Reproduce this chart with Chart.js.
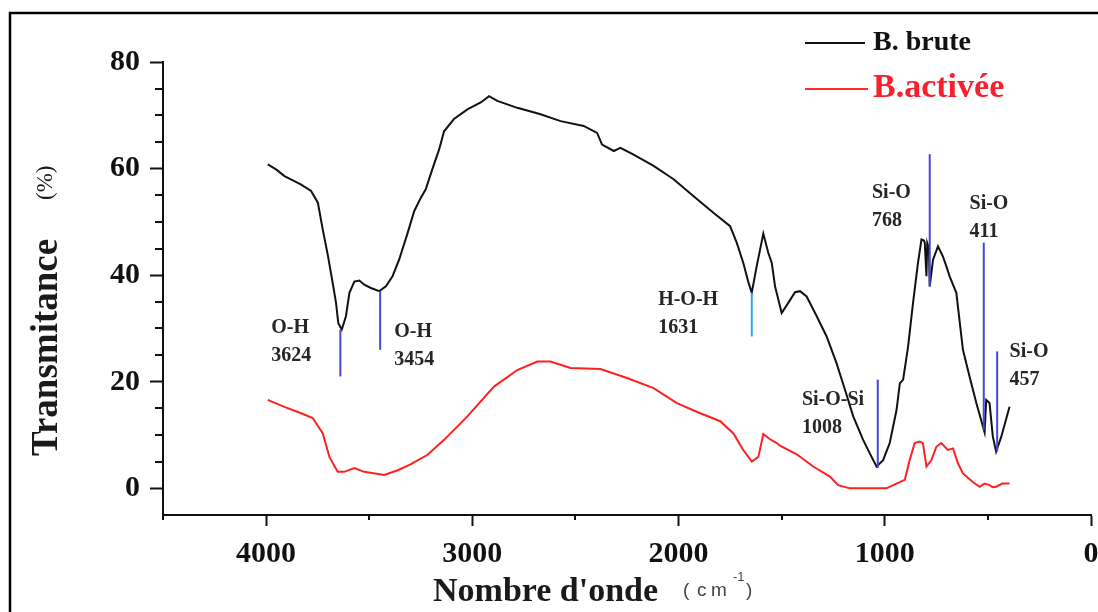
<!DOCTYPE html>
<html lang="fr">
<head>
    <meta charset="UTF-8">
    <title>Spectre IR - bentonite</title>
    <script src="https://cdn.jsdelivr.net/npm/chart.js"></script>
    <style>
        body { margin: 0; background: #fff; }
    </style>
</head>
<body>
    <canvas id="irChart" width="1098" height="612"></canvas>

    <script>
        // nombre d'onde (cm-1) et transmittance (%)
        const bruteX = [3992, 3950, 3911, 3870, 3830, 3782, 3749, 3725, 3701, 3677, 3661, 3650, 3633, 3613, 3596, 3572, 3548, 3524, 3492, 3451,
            3419, 3387, 3355, 3314, 3282, 3250, 3226, 3193, 3161, 3137, 3089, 3024, 2959, 2919, 2879, 2782, 2669, 2572, 2460, 2395,
            2371, 2314, 2282, 2218, 2121, 2024, 1927, 1831, 1750, 1718, 1686, 1660, 1645, 1621, 1589, 1565, 1548, 1532, 1500, 1468,
            1435, 1411, 1379, 1330, 1282, 1234, 1193, 1153, 1105, 1064, 1040, 1008, 976, 943, 927, 911, 887, 863, 839, 822,
            810, 806, 798, 794, 786, 782, 766, 742, 718, 700, 686, 653, 621, 589, 556, 524, 516, 508, 492, 476,
            460, 435, 395];
        const bruteY = [60.8, 59.8, 58.6, 57.8, 57.0, 55.8, 53.6, 48.5, 43.8, 38.5, 34.8, 31.0, 29.8, 32.3, 36.7, 38.8, 39.0, 38.2, 37.6, 37.0,
            37.9, 39.8, 42.9, 47.9, 52.0, 54.5, 56.1, 60.0, 63.6, 67.0, 69.3, 71.1, 72.4, 73.6, 72.7, 71.4, 70.2, 68.9, 68.0, 66.7,
            64.5, 63.3, 63.9, 62.6, 60.5, 58.0, 54.8, 51.7, 49.2, 46.1, 42.3, 38.5, 36.7, 41.7, 47.8, 44.2, 42.3, 37.9, 32.9, 34.8,
            36.8, 37.0, 36.0, 32.3, 28.5, 23.5, 18.5, 13.5, 9.1, 5.9, 4.1, 5.3, 8.5, 14.7, 19.7, 20.4, 26.6, 34.8, 42.3, 46.7,
            46.5, 46.1, 39.8, 46.0, 45.0, 37.9, 42.9, 45.4, 43.5, 41.5, 39.8, 36.7, 26.0, 21.0, 16.0, 11.6, 10.5, 16.6, 16.0, 9.7,
            6.9, 9.7, 15.3];

        const activeeX = [3992, 3911, 3830, 3774, 3725, 3693, 3653, 3621, 3572, 3524, 3427, 3362, 3300, 3217, 3137, 3024, 2895, 2782, 2685, 2621,
            2524, 2379, 2250, 2121, 2008, 1895, 1798, 1734, 1686, 1645, 1613, 1589, 1560, 1524, 1508, 1427, 1347, 1266, 1226, 1169,
            992, 943, 903, 879, 855, 831, 815, 798, 774, 750, 726, 694, 669, 645, 621, 573, 540, 516, 492, 476,
            460, 430, 395];
        const activeeY = [16.6, 15.3, 14.1, 13.2, 10.3, 5.9, 3.1, 3.1, 3.8, 3.1, 2.5, 3.4, 4.5, 6.3, 9.1, 13.5, 19.1, 22.2, 23.8, 23.8,
            22.6, 22.4, 20.7, 18.8, 16.0, 14.1, 12.6, 10.3, 7.2, 5.0, 5.9, 10.2, 9.3, 8.5, 8.0, 6.4, 4.1, 2.2, 0.6, 0.0,
            0.0, 0.9, 1.6, 5.3, 8.5, 8.8, 8.5, 4.1, 5.3, 7.8, 8.5, 7.2, 7.5, 4.7, 2.8, 1.2, 0.3, 0.9, 0.6, 0.2,
            0.3, 0.9, 0.9];

        const seriesNames = ['B. brute', 'B.activée'];

        const xTicks = [4000, 3000, 2000, 1000, 0];
        const xMinorTicks = [4500, 3500, 2500, 1500, 500];
        const yTicks = [0, 20, 40, 60, 80];
        const yMinorTicks = [5, 10, 15, 25, 30, 35, 45, 50, 55, 65, 70, 75];

        // bandes annotées : trait vertical + étiquette (en unités du graphe)
        const bandNames = ['O-H', 'O-H', 'H-O-H', 'Si-O-Si', 'Si-O', 'Si-O', 'Si-O'];
        const bandNumbers = ['3624', '3454', '1631', '1008', '768', '411', '457'];
        const bandLineX = [3640, 3447, 1645, 1034, 782, 520, 455];
        const bandLineTop = [29.8, 37.0, 36.7, 20.4, 62.7, 46.1, 25.7];
        const bandLineBottom = [21.0, 26.0, 28.5, 3.8, 37.9, 11.0, 6.9];
        const bandLabelX = [3975, 3379, 2099, 1402, 1062, 589, 395];
        const bandLabelY = [30.1, 29.4, 35.4, 16.6, 55.5, 53.3, 25.7];

        const serif = '"Liberation Serif", "Times New Roman", serif';
        const sans = '"Liberation Sans", Arial, sans-serif';

        function toPoints(xs, ys) {
            return xs.map((x, i) => ({ x: x, y: ys[i] }));
        }

        const decor = {
            id: 'decor',
            afterDraw(chart) {
                const ctx = chart.ctx;
                const xs = chart.scales.x;
                const ys = chart.scales.y;
                const area = chart.chartArea;
                ctx.save();

                // cadre
                ctx.strokeStyle = '#000';
                ctx.lineWidth = 2.5;
                ctx.beginPath();
                ctx.moveTo(10, 612);
                ctx.lineTo(10, 13);
                ctx.lineTo(1098, 13);
                ctx.stroke();

                // petites graduations
                ctx.lineWidth = 2;
                ctx.strokeStyle = '#111';
                xMinorTicks.forEach(v => {
                    const px = Math.round(xs.getPixelForValue(v));
                    ctx.beginPath();
                    ctx.moveTo(px, area.bottom);
                    ctx.lineTo(px, area.bottom + 5);
                    ctx.stroke();
                });
                yMinorTicks.forEach(v => {
                    const py = Math.round(ys.getPixelForValue(v));
                    ctx.beginPath();
                    ctx.moveTo(area.left, py);
                    ctx.lineTo(area.left - 8, py);
                    ctx.stroke();
                });

                // bandes
                ctx.font = 'bold 20px ' + serif;
                ctx.textAlign = 'left';
                ctx.textBaseline = 'middle';
                bandNames.forEach((name, i) => {
                    const px = xs.getPixelForValue(bandLineX[i]);
                    ctx.strokeStyle = name === 'H-O-H' ? '#2fa8e6' : '#4747d4';
                    ctx.lineWidth = 2;
                    ctx.beginPath();
                    ctx.moveTo(px, ys.getPixelForValue(bandLineTop[i]));
                    ctx.lineTo(px, ys.getPixelForValue(bandLineBottom[i]));
                    ctx.stroke();

                    const lx = xs.getPixelForValue(bandLabelX[i]);
                    const ly = ys.getPixelForValue(bandLabelY[i]);
                    ctx.fillStyle = '#262626';
                    ctx.fillText(name, lx, ly);
                    ctx.fillText(bandNumbers[i], lx, ly + 28);
                });

                // légende
                ctx.lineWidth = 2;
                ctx.strokeStyle = '#111';
                ctx.beginPath();
                ctx.moveTo(805, 43);
                ctx.lineTo(865, 43);
                ctx.stroke();
                ctx.strokeStyle = '#ff2a2a';
                ctx.beginPath();
                ctx.moveTo(805, 89);
                ctx.lineTo(868, 89);
                ctx.stroke();
                ctx.textBaseline = 'alphabetic';
                ctx.fillStyle = '#111';
                ctx.font = 'bold 28px ' + serif;
                ctx.fillText(seriesNames[0], 873, 50);
                ctx.fillStyle = '#f5222d';
                ctx.font = 'bold 34px ' + serif;
                ctx.fillText(seriesNames[1], 873, 97);

                // titres des axes
                ctx.fillStyle = '#1a1a1a';
                ctx.font = 'bold 37px ' + serif;
                ctx.save();
                ctx.translate(57, 456);
                ctx.rotate(-Math.PI / 2);
                ctx.fillText('Transmitance', 0, 0);
                ctx.restore();
                ctx.font = '23px ' + serif;
                ctx.save();
                ctx.translate(52, 200);
                ctx.rotate(-Math.PI / 2);
                ctx.fillText('(%)', 0, 0);
                ctx.restore();

                ctx.font = 'bold 34px ' + serif;
                ctx.fillText("Nombre d'onde", 433, 601);
                ctx.fillStyle = '#444';
                ctx.font = '19px ' + sans;
                ctx.fillText('(', 683, 596);
                ctx.fillText('c', 697, 596);
                ctx.fillText('m', 711, 596);
                ctx.fillText(')', 746, 596);
                ctx.font = '13px ' + sans;
                ctx.fillText('-1', 733, 581);

                ctx.restore();
            }
        };

        const ctx = document.getElementById('irChart').getContext('2d');
        new Chart(ctx, {
            type: 'line',
            data: {
                datasets: [{
                    label: seriesNames[0],
                    data: toPoints(bruteX, bruteY),
                    borderColor: '#111',
                    borderWidth: 2,
                    pointRadius: 0,
                    tension: 0
                }, {
                    label: seriesNames[1],
                    data: toPoints(activeeX, activeeY),
                    borderColor: '#ff2020',
                    borderWidth: 2,
                    pointRadius: 0,
                    tension: 0
                }]
            },
            options: {
                responsive: false,
                animation: false,
                devicePixelRatio: 1,
                layout: { padding: { top: 62, right: 7, bottom: 0, left: 0 } },
                plugins: {
                    legend: { display: false },
                    tooltip: { enabled: false }
                },
                scales: {
                    x: {
                        type: 'linear',
                        reverse: true,
                        min: 0,
                        max: 4500,
                        afterBuildTicks: s => { s.ticks = xTicks.map(v => ({ value: v })); },
                        afterFit: s => { s.height = 97; s.paddingLeft = 0; s.paddingRight = 0; },
                        border: { color: '#111', width: 2 },
                        grid: { drawOnChartArea: false, tickLength: 11, tickColor: '#111', tickWidth: 2 },
                        ticks: {
                            color: '#111',
                            padding: 10,
                            maxRotation: 0,
                            font: { family: serif, size: 30, weight: 'bold' },
                            callback: v => String(v)
                        }
                    },
                    y: {
                        min: -5,
                        max: 80,
                        afterBuildTicks: s => { s.ticks = yTicks.map(v => ({ value: v })); },
                        afterFit: s => { s.width = 163; s.paddingTop = 0; s.paddingBottom = 0; },
                        border: { color: '#111', width: 2 },
                        grid: { drawOnChartArea: false, tickLength: 13, tickColor: '#111', tickWidth: 2 },
                        ticks: {
                            color: '#111',
                            padding: 10,
                            font: { family: serif, size: 30, weight: 'bold' },
                            callback: v => String(v)
                        }
                    }
                }
            },
            plugins: [decor]
        });
    </script>
</body>
</html>
